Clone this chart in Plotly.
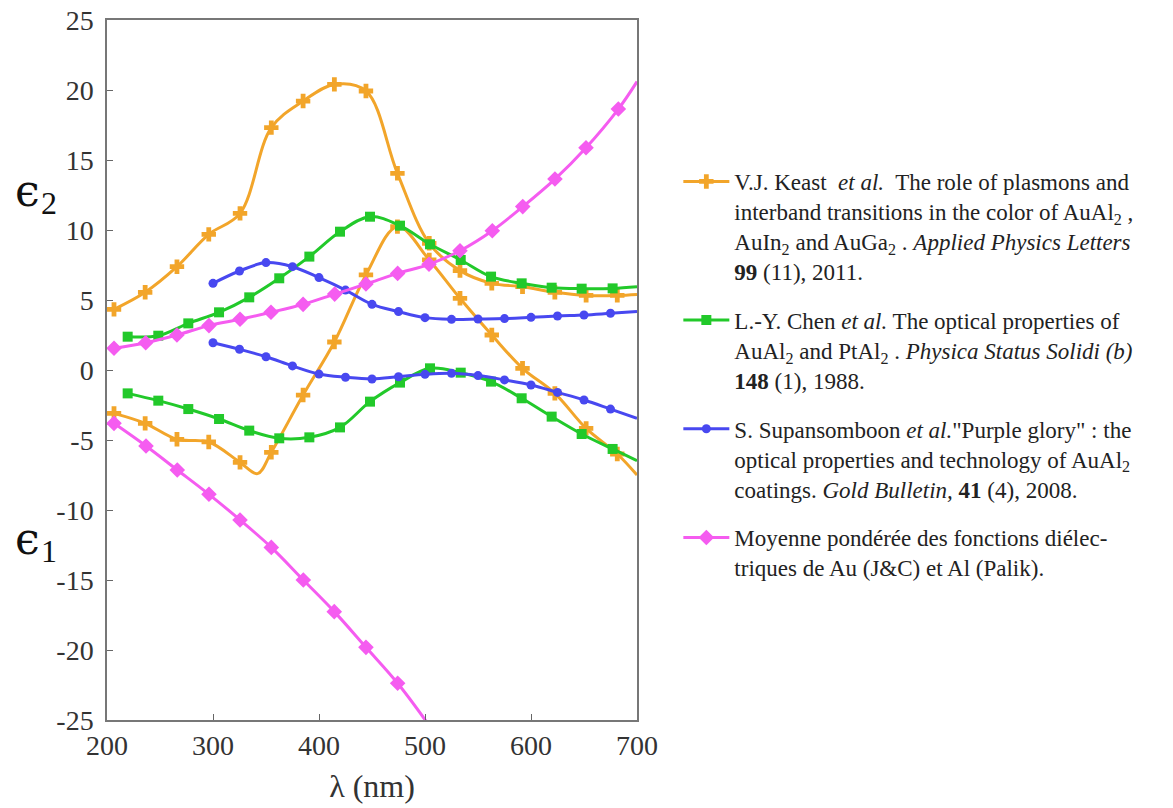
import plotly.graph_objects as go

# V.J. Keast et al. (orange)
keast_x = [206.6, 236.0, 266.0, 296.0, 325.5, 355.0, 385.0, 414.5, 444.3, 474.0,
           504.0, 533.0, 563.0, 592.0, 622.5, 652.0, 681.4]
keast_e2 = [4.33, 5.55, 7.38, 9.69, 11.19, 17.31, 19.21, 20.4, 19.93, 14.05,
            9.05, 7.1, 6.19, 5.95, 5.55, 5.33, 5.33]
keast_e1 = [-3.1, -3.81, -4.95, -5.14, -6.6, -5.88, -1.79, 2.0, 6.79, 10.24,
            7.86, 5.12, 2.5, 0.12, -1.67, -4.17, -6.0]
keast_e2_end = 5.4
keast_e1_end = -7.5
keast_e1_dip = (342.0, -7.4)

# L.-Y. Chen et al. (green)
chen_x = [219.5, 248.4, 276.7, 305.7, 334.2, 362.5, 390.9, 419.8, 448.1, 476.4,
          504.7, 533.7, 562.3, 591.2, 619.5, 647.8, 677.0]
chen_e2 = [2.38, 2.45, 3.33, 4.12, 5.19, 6.55, 8.1, 9.88, 10.95, 10.31,
           8.98, 7.86, 6.67, 6.19, 5.88, 5.81, 5.83]
chen_e1 = [-1.67, -2.19, -2.79, -3.5, -4.33, -4.88, -4.81, -4.1, -2.26, -0.9,
           0.12, -0.19, -0.83, -2.02, -3.33, -4.57, -5.64]
chen_e2_end = 5.95
chen_e1_end = -6.48

# S. Supansomboon et al. (blue)
sup_x = [300, 325, 350, 375, 400, 425, 450, 475, 500, 525, 550, 575, 600, 625, 650, 675]
sup_e2 = [6.19, 7.07, 7.67, 7.38, 6.6, 5.71, 4.69, 4.17, 3.74, 3.62, 3.64, 3.67,
          3.76, 3.86, 3.93, 4.05]
sup_e1 = [1.95, 1.48, 0.95, 0.29, -0.29, -0.52, -0.64, -0.48, -0.31, -0.24, -0.4,
          -0.71, -1.07, -1.6, -2.14, -2.79]
sup_e2_end = 4.17
sup_e1_end = -3.45

# Moyenne ponderee Au / Al (magenta)
avg_x = [206.6, 236.5, 266.0, 296.2, 325.5, 354.7, 385.0, 414.8, 444.3, 474.2,
         503.8, 533.0, 563.5, 592.2, 622.6, 651.9, 682.4]
avg_e2 = [1.55, 1.95, 2.5, 3.17, 3.62, 4.12, 4.69, 5.42, 6.14, 6.9,
          7.55, 8.52, 9.95, 11.67, 13.64, 15.88, 18.64]
avg_e2_end = 20.6
avg_e1_x = [206.6, 236.8, 266.3, 296.2, 325.5, 355.0, 385.2, 414.4, 444.3, 474.2]
avg_e1 = [-3.81, -5.43, -7.14, -8.88, -10.71, -12.67, -15.0, -17.26, -19.81, -22.38]
avg_e1_end = (504.0, -25.4)

y_ticks = [-25, -20, -15, -10, -5, 0, 5, 10, 15, 20, 25]
y_labels = ["-25", "-20", "-15", "-10", "-5", "0", "5", "10", "15", "20", "25"]
x_ticks = [200, 300, 400, 500, 600, 700]

ORANGE = "#F2A52A"
GREEN = "#22C92A"
BLUE = "#4848F0"
MAGENTA = "#F55CF0"
SERIF = "Liberation Serif, Times New Roman, serif"

legend_texts = [
    "V.J. Keast  <i>et al.</i>  The role of plasmons and<br>"
    "interband transitions in the color of AuAl<sub>2</sub> ,<br>"
    "AuIn<sub>2</sub> and AuGa<sub>2</sub> . <i>Applied Physics Letters</i><br>"
    "<b>99</b> (11), 2011.",
    "L.-Y. Chen <i>et al.</i> The optical properties of<br>"
    "AuAl<sub>2</sub> and PtAl<sub>2</sub> . <i>Physica Status Solidi (b)</i><br>"
    "<b>148</b> (1), 1988.",
    "S. Supansomboon <i>et al.</i>\"Purple glory\" : the<br>"
    "optical properties and technology of AuAl<sub>2</sub><br>"
    "coatings. <i>Gold Bulletin,</i> <b>41</b> (4), 2008.",
    "Moyenne pondérée des fonctions diélec-<br>"
    "triques de Au (J&C) et Al (Palik).",
]


def add_curve(fig, x, y, line_x, line_y, color, symbol, size, group):
    fig.add_trace(go.Scatter(x=line_x, y=line_y, mode="lines", line=dict(color=color, width=3, shape="spline"),
                             legendgroup=group, showlegend=False, hoverinfo="skip"))
    fig.add_trace(go.Scatter(x=x, y=y, mode="markers", marker=dict(color=color, symbol=symbol, size=size),
                             legendgroup=group, showlegend=False))


fig = go.Figure()

series = [
    ("keast", keast_x, keast_e2, keast_x, keast_e1, ORANGE, "cross", 12),
    ("chen", chen_x, chen_e2, chen_x, chen_e1, GREEN, "square", 10),
    ("sup", sup_x, sup_e2, sup_x, sup_e1, BLUE, "circle", 9),
    ("avg", avg_x, avg_e2, avg_e1_x, avg_e1, MAGENTA, "diamond", 12),
]
ends = {
    "keast": ((700, keast_e2_end), (700, keast_e1_end)),
    "chen": ((700, chen_e2_end), (700, chen_e1_end)),
    "sup": ((700, sup_e2_end), (700, sup_e1_end)),
    "avg": ((700, avg_e2_end), avg_e1_end),
}

for i, (name, x2, y2, x1, y1, color, symbol, size) in enumerate(series):
    e2_end, e1_end = ends[name]
    lx2 = list(x2) + [e2_end[0]]
    ly2 = list(y2) + [e2_end[1]]
    pts1 = list(zip(x1, y1)) + [e1_end]
    if name == "keast":
        pts1.append(keast_e1_dip)
    pts1.sort()
    lx1 = [p[0] for p in pts1]
    ly1 = [p[1] for p in pts1]
    add_curve(fig, x2, y2, lx2, ly2, color, symbol, size, name)
    add_curve(fig, x1, y1, lx1, ly1, color, symbol, size, name)
    fig.add_trace(go.Scatter(x=[None], y=[None], mode="lines+markers", name=legend_texts[i],
                             line=dict(color=color, width=3),
                             marker=dict(color=color, symbol=symbol, size=size),
                             legendgroup=name, showlegend=True))

axis_common = dict(
    showline=True, mirror=True, linecolor="#777777", linewidth=1.5,
    ticks="inside", ticklen=6, tickcolor="#666666", tickwidth=1,
    showgrid=False, zeroline=False, automargin=False, ticklabeloverflow="allow",
    tickfont=dict(family=SERIF, size=28, color="#333333"),
)

fig.update_xaxes(range=[200, 700], tickvals=x_ticks, **axis_common,
                 title=dict(text="λ (nm)", font=dict(family=SERIF, size=32, color="#333333"),
                            standoff=14))
fig.update_yaxes(range=[-25, 25], tickvals=y_ticks, ticktext=y_labels, ticklabelstandoff=6, **axis_common)

# epsilon labels on the left
for sub, y_eps, y_sub in [("2", 0.756, 0.738), ("1", 0.259, 0.241)]:
    fig.add_annotation(text="ϵ", xref="paper", yref="paper", x=-0.178, y=y_eps,
                       xanchor="left", yanchor="middle", showarrow=False,
                       font=dict(family="DejaVu Serif", size=44, color="#111111"))
    fig.add_annotation(text=sub, xref="paper", yref="paper", x=-0.128, y=y_sub,
                       xanchor="left", yanchor="middle", showarrow=False,
                       font=dict(family=SERIF, size=32, color="#111111"))

fig.update_layout(
    width=1173, height=808,
    margin=dict(l=99, r=544, t=12, b=96, autoexpand=False),
    plot_bgcolor="white", paper_bgcolor="white",
    legend=dict(x=1.078, y=0.80, xanchor="left", yanchor="top", valign="top",
                font=dict(family=SERIF, size=23, color="#222222"),
                itemwidth=46, tracegroupgap=16, bgcolor="rgba(0,0,0,0)"),
)

fig.write_html("out.html")
